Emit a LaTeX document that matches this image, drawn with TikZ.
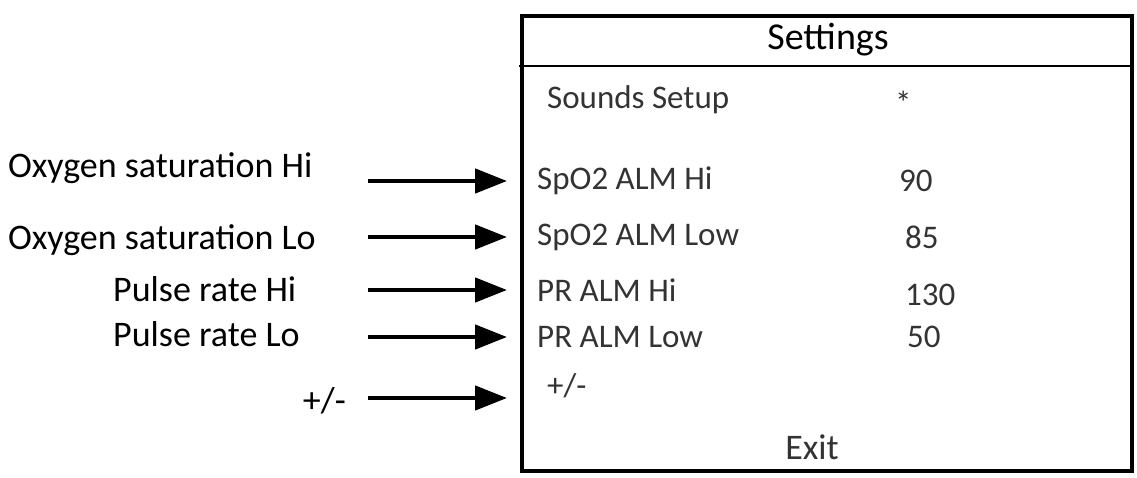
\documentclass[tikz,border=0pt]{standalone}
\usepackage{fontspec}
\setmainfont{Carlito}
\usetikzlibrary{arrows.meta}
\begin{document}
\begin{tikzpicture}[x=1pt,y=-1pt,
  lab/.style={font=\fontsize{36}{40}\selectfont,anchor=west,inner sep=0},
  item/.style={font=\fontsize{33}{36}\selectfont,anchor=west,inner sep=0,text=black!80},
  arr/.style={line width=4.5pt,-{Triangle[length=32pt,width=24pt]}}]
\useasboundingbox (0,0) rectangle (1137,478);
\node[draw,line width=4pt,minimum width=610pt,minimum height=455pt,anchor=north west,inner sep=0] (box) at (520,14) {};
\coordinate (hl) at (519,66); \coordinate (hr) at (1131,66);
\draw[line width=2.2pt] (hl) -- (hr);
\node[font=\fontsize{38}{42}\selectfont,inner sep=0] (set) at (828,40) {Settings};
\node[font=\fontsize{36}{40}\selectfont,inner sep=0,text=black!80] (exit) at (812,447) {Exit};
\node[item] (i1) at (547,100) {Sounds Setup};
\node[item] (v1) at (895,103) {*};
\node[item] (i2) at (537,181) {SpO2 ALM Hi};
\node[item] (v2) at (899,181) {90};
\node[item] (i3) at (537,237) {SpO2 ALM Low};
\node[item] (v3) at (905,237) {85};
\node[item] (i4) at (537,290) {PR ALM Hi};
\node[item] (v4) at (905,295) {130};
\node[item] (i5) at (537,337) {PR ALM Low};
\node[item] (v5) at (907,337) {50};
\node[item] (i6) at (547,386) {+/-};
\node[lab] (l2) at (8,168) {Oxygen saturation Hi};
\node[lab] (l3) at (8,240) {Oxygen saturation Lo};
\node[lab] (l4) at (113,289) {Pulse rate Hi};
\node[lab] (l5) at (113,334) {Pulse rate Lo};
\node[lab,anchor=east] (l6) at (346,401) {+/-};
\coordinate (a2) at (368,181); \coordinate (a3) at (368,237);
\coordinate (a4) at (368,290); \coordinate (a5) at (368,337);
\coordinate (a6) at (368,398);
\draw[arr] (a2) -- (a2 -| 507,0);
\draw[arr] (a3) -- (a3 -| 507,0);
\draw[arr] (a4) -- (a4 -| 507,0);
\draw[arr] (a5) -- (a5 -| 507,0);
\draw[arr] (a6) -- (a6 -| 507,0);
\end{tikzpicture}
\end{document}
